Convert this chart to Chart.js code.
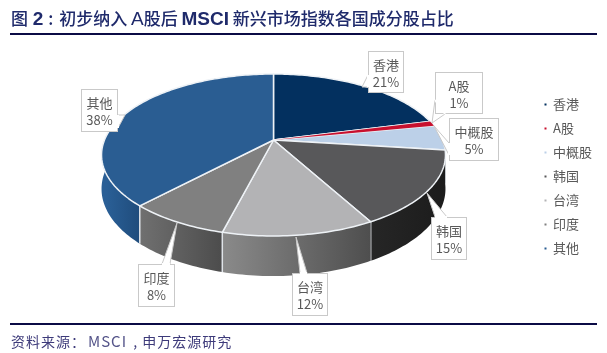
<!DOCTYPE html>
<html>
<head>
<meta charset="utf-8">
<script src="https://cdn.jsdelivr.net/npm/chart.js@4"></script>
<style>
body { margin: 0; background: #fff; font-family: "Noto Sans CJK SC", sans-serif; }
#wrap { position: relative; width: 607px; height: 353px; overflow: hidden; }
#title { position: absolute; left: 11px; top: 6px; font-size: 17px; line-height: 24px; font-weight: 500; color: #1f2a6b; white-space: nowrap; }
#title b { font-family: "Liberation Sans", sans-serif; font-weight: 700; font-size: 19px; }
#title i { font-family: "Liberation Sans", sans-serif; font-style: normal; font-size: 19px; }
.rule { position: absolute; left: 10px; width: 587px; height: 2px; background: #0b0b45; }
#source { position: absolute; left: 11px; top: 331px; font-size: 14px; line-height: 20px; letter-spacing: 1px; color: #3d3a7a; white-space: nowrap; }
#source span { font-size: 15px; letter-spacing: 1px; margin-left: 2px; margin-right: 2px; color: #55558a; }
canvas { position: absolute; left: 0; top: 0; }
</style>
</head>
<body>
<div id="wrap">
  <canvas id="pieChart" width="607" height="353"></canvas>
  <div id="title">图 <b style="margin-left:1px">2</b> <span style="margin:0 2px 0 1px">:</span> 初步纳入 <i>A</i>股后 <b>MSCI</b> 新兴市场指数各国成分股占比</div>
  <div class="rule" style="top:33px"></div>
  <div class="rule" style="top:323px"></div>
  <div id="source">资料来源：<span>MSCI</span> , 申万宏源研究</div>
</div>
<script>
// Data
const categories = ['香港', 'A股', '中概股', '韩国', '台湾', '印度', '其他'];
const shares = [21, 1, 5, 15, 12, 8, 38];

// Slice colours, top face then side wall (light end, dark end)
const topColors = ['#03305f', '#c8102e', '#bcd0e8', '#58585a', '#b3b3b5', '#808080', '#2a5d92'];
const wallLeft = ['#03305f', '#c8102e', '#222222', '#262626', '#8a8a8a', '#707070', '#2a5f96'];
const wallRight = ['#03305f', '#c8102e', '#1c1c1c', '#1c1c1c', '#4e4e4e', '#4c4c4c', '#1f4c7c'];

// Callout boxes: left, top, right, bottom, then pointer tip and the two base points
const callouts = [
    { box: [368, 51, 404, 93], tip: [362, 87], base: [[368, 75], [368, 87]] },
    { box: [435, 72, 483, 114], tip: [432, 123], base: [[435, 100], [445, 114]] },
    { box: [449, 118, 499, 161], tip: [434, 126], base: [[449, 143], [449, 155]] },
    { box: [431, 217, 467, 260], tip: [427, 193], base: [[435, 217], [447, 217]] },
    { box: [292, 273, 328, 316], tip: [296, 237], base: [[300, 273], [307, 273]] },
    { box: [138, 264, 175, 307], tip: [177, 223], base: [[162, 264], [170, 264]] },
    { box: [81, 89, 118, 132], tip: [125, 115], base: [[118, 115], [118, 128]] }
];

// The tilted pie: perspective projection of the library's arc angles
const tilt = { cx: 273.5, cy: 140, rx: 169, ry: 78.2, persp: 0.185, depth: 32.7 };

function project(angle, z) {
    const w = 1 - tilt.persp * Math.sin(angle);
    return [tilt.cx + tilt.rx * Math.cos(angle) / w, tilt.cy + (tilt.ry * Math.sin(angle) + z) / w];
}

function traceRim(ctx, from, to, z) {
    const steps = Math.max(2, Math.ceil(Math.abs(to - from) / 0.02));
    for (let i = 0; i <= steps; i++) {
        const p = project(from + (to - from) * i / steps, z);
        ctx.lineTo(p[0], p[1]);
    }
}

function drawWall(ctx, arc, index) {
    // only the part of the rim facing the viewer
    const start = Math.max(arc.startAngle, -0.05);
    const end = Math.min(arc.endAngle, Math.PI + 0.05);
    if (end <= start) return;
    const left = project(end, 0)[0];
    const right = project(start, 0)[0];
    const grad = ctx.createLinearGradient(left, 0, right, 0);
    grad.addColorStop(0, wallLeft[index]);
    grad.addColorStop(1, wallRight[index]);
    ctx.beginPath();
    traceRim(ctx, start, end, 0);
    traceRim(ctx, end, start, tilt.depth);
    ctx.closePath();
    ctx.fillStyle = grad;
    ctx.fill();
    // pale seam at the slice edge
    const a = project(end, 0);
    const b = project(end, tilt.depth);
    ctx.beginPath();
    ctx.moveTo(a[0], a[1]);
    ctx.lineTo(b[0], b[1]);
    ctx.strokeStyle = '#dfe3e8';
    ctx.lineWidth = 1.5;
    ctx.stroke();
}

function drawTop(ctx, arc, lineWidth) {
    ctx.beginPath();
    ctx.moveTo(tilt.cx, tilt.cy);
    traceRim(ctx, arc.startAngle, arc.endAngle, 0);
    ctx.closePath();
    ctx.fillStyle = arc.options.backgroundColor;
    ctx.fill();
    if (lineWidth > 0) {
        ctx.strokeStyle = arc.options.borderColor;
        ctx.lineWidth = lineWidth;
        ctx.lineJoin = 'round';
        ctx.stroke();
    }
}

function drawCallout(ctx, c, index) {
    const [l, t, r, b] = c.box;
    // pointer first so the box outline sits over its base
    ctx.beginPath();
    ctx.moveTo(c.base[0][0], c.base[0][1]);
    ctx.lineTo(c.tip[0], c.tip[1]);
    ctx.lineTo(c.base[1][0], c.base[1][1]);
    ctx.closePath();
    ctx.fillStyle = '#fff';
    ctx.strokeStyle = '#c9c9c9';
    ctx.lineWidth = 1;
    ctx.fill();
    ctx.stroke();
    ctx.fillRect(l, t, r - l, b - t);
    ctx.strokeRect(l + 0.5, t + 0.5, r - l - 1, b - t - 1);
    // close the seam between pointer and box
    ctx.beginPath();
    ctx.moveTo(c.base[0][0], c.base[0][1]);
    ctx.lineTo(c.base[1][0], c.base[1][1]);
    ctx.strokeStyle = '#fff';
    ctx.lineWidth = 2;
    ctx.stroke();

    ctx.fillStyle = '#595959';
    ctx.font = '13px "Noto Sans CJK SC"';
    ctx.textAlign = 'center';
    ctx.textBaseline = 'middle';
    const mid = (l + r) / 2;
    ctx.fillText(categories[index], mid, t + 14.5);
    ctx.fillText(shares[index] + '%', mid, t + 31.5);
}

const pie3d = {
    id: 'pie3d',
    beforeDatasetDraw(chart) {
        const ctx = chart.ctx;
        const arcs = chart.getDatasetMeta(0).data;
        // back to front: outer walls first, the nearest slice last
        const order = arcs.map((arc, i) => i).sort((a, b) =>
            Math.sin((arcs[a].startAngle + arcs[a].endAngle) / 2) - Math.sin((arcs[b].startAngle + arcs[b].endAngle) / 2));
        ctx.save();
        order.forEach(i => drawWall(ctx, arcs[i], i));
        arcs.forEach(arc => drawTop(ctx, arc, arc.options.borderWidth));
        // the thin red slice goes back on top so the seams do not swallow it
        drawTop(ctx, arcs[1], 0);
        ctx.restore();
        return false;
    },
    afterDatasetsDraw(chart) {
        const ctx = chart.ctx;
        ctx.save();
        callouts.forEach((c, i) => drawCallout(ctx, c, i));
        ctx.restore();
    }
};

new Chart(document.getElementById('pieChart').getContext('2d'), {
    type: 'pie',
    data: {
        labels: categories,
        datasets: [{
            data: shares,
            backgroundColor: topColors,
            borderColor: '#eef2f6',
            borderWidth: 1.5
        }]
    },
    options: {
        responsive: false,
        animation: false,
        layout: { padding: { right: 5 } },
        plugins: {
            tooltip: { enabled: false },
            legend: {
                position: 'right',
                labels: {
                    boxWidth: 2,
                    boxHeight: 2,
                    padding: 11,
                    color: '#595959',
                    font: { size: 13, family: '"Noto Sans CJK SC"' },
                    // plain solid markers, no slice border round them
                    generateLabels: chart => categories.map((name, i) => ({
                        text: name,
                        fillStyle: topColors[i],
                        strokeStyle: topColors[i],
                        lineWidth: 0,
                        fontColor: '#595959',
                        index: i
                    }))
                }
            }
        }
    },
    plugins: [pie3d]
});
</script>
</body>
</html>
